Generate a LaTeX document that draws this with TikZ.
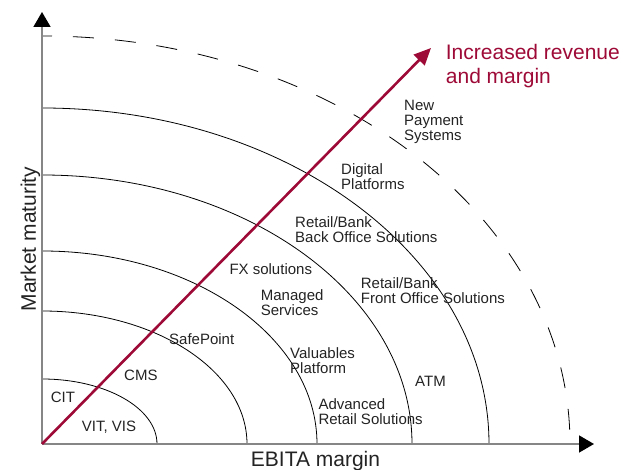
\documentclass[tikz,border=0pt]{standalone}
\usepackage{fontspec}
\setmainfont{Liberation Sans}
\usetikzlibrary{arrows.meta}
\definecolor{wine}{RGB}{158,10,55}
\definecolor{txt}{RGB}{35,35,35}
\begin{document}
\begin{tikzpicture}[x=1pt,y=1pt,
  lbl/.style={font=\fontsize{15}{15}\selectfont,text=txt,inner sep=0pt,anchor=base west,align=left},
  axlbl/.style={font=\fontsize{21}{23.3}\selectfont,inner sep=0pt},
  axis/.style={line width=1.6pt,draw=gray!95,-{Triangle[length=15pt,width=17pt,color=black]}},
  ring/.style={line width=0.8pt}]
\useasboundingbox (-42,-26) rectangle (580,444);
\coordinate (o) at (0,0);
\coordinate (ytop) at (0,432);
\coordinate (xend) at (552,0);
\coordinate (goal) at (389,396);
% quarter rings, inner to outer
\foreach \rx/\ry in {115/65,205/133,275/193,370/269,447/336}
  \draw[ring] (0,\ry) arc[start angle=90,end angle=0,x radius=\rx,y radius=\ry];
\draw[ring,dash pattern=on 21pt off 21pt,dash phase=11pt] (0,408) arc[start angle=90,end angle=0,x radius=528,y radius=408];
% axes and growth arrow
\draw[axis] (o) -- (ytop);
\draw[axis] (o) -- (xend);
\draw[wine,line width=2.6pt,-{Triangle[length=17pt,width=15pt]}] (o) -- (goal);
\node[axlbl,text=txt,anchor=base west] (xlbl) at (208.7,-22.7) {EBITA margin};
\node[axlbl,text=txt,anchor=base,rotate=90] (ylbl) at (-6,205) {Market maturity};
% multi-line nodes sit on their last baseline
\node[axlbl,text=wine,anchor=base west,align=left] (goallbl) at (403.7,360.7) {Increased revenue\\and margin};
% offerings
\node[lbl] (cit) at (8.7,41.7) {CIT};
\node[lbl] (vit) at (39.7,12) {VIT, VIS};
\node[lbl] (cms) at (82,63.3) {CMS};
\node[lbl] (safe) at (127,99.7) {SafePoint};
\node[lbl] (fx) at (187.3,169) {FX solutions};
\node[lbl] (mgd) at (218.7,128.3) {Managed\\Services};
\node[lbl] (val) at (248,70.7) {Valuables\\Platform};
\node[lbl] (adv) at (276.3,19) {Advanced\\Retail Solutions};
\node[lbl] (atm) at (373,57.3) {ATM};
\node[lbl] (front) at (318.7,140.7) {Retail/Bank\\Front Office Solutions};
\node[lbl] (back) at (253,201.7) {Retail/Bank\\Back Office Solutions};
\node[lbl] (dig) at (299,254) {Digital\\Platforms};
\node[lbl] (pay) at (362,303.3) {New\\Payment\\Systems};
\end{tikzpicture}
\end{document}
